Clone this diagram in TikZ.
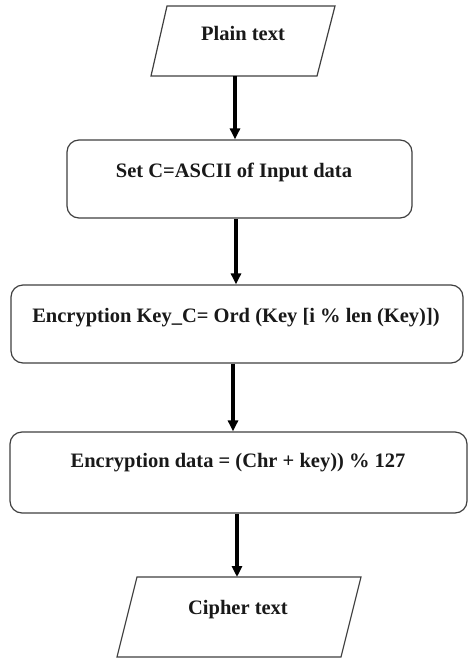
\documentclass[tikz,border=0pt]{standalone}
\usepackage{fontspec}
\setmainfont{Liberation Serif}
\usetikzlibrary{arrows.meta}
\begin{document}
\begin{tikzpicture}[x=1pt,y=-1pt,
  outline/.style={draw=black!75, line width=1.2pt},
  boxstyle/.style={outline, rounded corners=12pt, inner sep=0pt},
  lbl/.style={font=\bfseries\fontsize{20.5}{24}\selectfont, inner sep=0pt, text=black!90},
  flow/.style={line width=3.6pt, -{Triangle[width=10pt,length=11pt]}}]
\useasboundingbox (0,0) rectangle (468,659);
\fill[white] (0,0) rectangle (468,659);
% input parallelogram
\draw[outline] (167,6) -- (335,6) -- (317,76) -- (151,76) -- cycle;
\node[lbl] (plain) at (243,33) {Plain text};
\coordinate (p1b) at (235,76);
% process boxes
\node[boxstyle, minimum width=345pt, minimum height=78pt] (b2) at (239.5,179) {};
\node[lbl] (t2) at (234,172) {Set C=ASCII of Input data};
\node[boxstyle, minimum width=452pt, minimum height=78pt] (b3) at (237,324) {};
\node[lbl] (t3) at (236,318) {Encryption Key\_C= Ord (Key [i \% len (Key)])};
\node[boxstyle, minimum width=457pt, minimum height=81pt] (b4) at (238.5,472.5) {};
\node[lbl] (t4) at (238,463) {Encryption data = (Chr + key)) \% 127};
% output parallelogram
\draw[outline] (137,577) -- (361,577) -- (341,657) -- (117,657) -- cycle;
\node[lbl] (cipher) at (238,610) {Cipher text};
\coordinate (p5t) at (237,577);
% connectors
\draw[flow] (p1b) -- (p1b |- b2.north);
\coordinate (a2) at (236,0);
\draw[flow] (a2 |- b2.south) -- (a2 |- b3.north);
\coordinate (a3) at (233,0);
\draw[flow] (a3 |- b3.south) -- (a3 |- b4.north);
\draw[flow] (p5t |- b4.south) -- (p5t);
\end{tikzpicture}
\end{document}
